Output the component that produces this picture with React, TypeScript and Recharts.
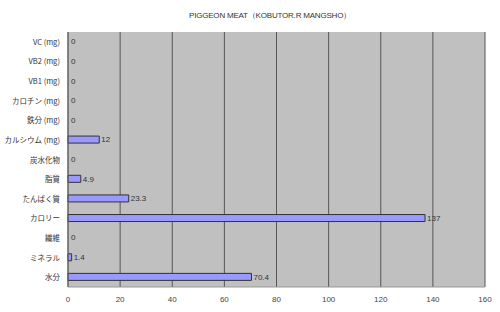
import { Bar, BarChart, CartesianGrid, Cell, LabelList, XAxis, YAxis } from "recharts";

const categories = [
  "VC (mg)",
  "VB2 (mg)",
  "VB1 (mg)",
  "カロチン (mg)",
  "鉄分 (mg)",
  "カルシウム (mg)",
  "炭水化物",
  "脂質",
  "たんぱく質",
  "カロリー",
  "繊維",
  "ミネラル",
  "水分",
];
const values = [0, 0, 0, 0, 0, 12, 0, 4.9, 23.3, 137, 0, 1.4, 70.4];
const xTicks = [0, 20, 40, 60, 80, 100, 120, 140, 160];

const TITLE = "PIGGEON MEAT（KOBUTOR.R MANGSHO）";

const chartData = categories.map((name, i) => ({ name, value: values[i] }));

const labelFont = "'Liberation Sans', Arial, sans-serif";
const jpFont = "'Noto Sans CJK JP', sans-serif";

// category labels on one line, no wrapping
function CategoryTick(props: any) {
  const { x, y, payload } = props;
  return (
    <text
      x={x}
      y={y}
      dy={3}
      textAnchor="end"
      fontSize={7.5}
      fill="#333"
      fontFamily={jpFont}
    >
      {payload.value}
    </text>
  );
}

export default function App() {
  return (
    <div style={{ position: "fixed", left: 0, top: 0, width: 500, height: 312, background: "#fff" }}>
      <div
        style={{
          position: "absolute",
          top: 10,
          left: 0,
          width: 540,
          textAlign: "center",
          fontFamily: labelFont,
          fontSize: 8,
          color: "#333",
          letterSpacing: -0.2,
        }}
      >
        {TITLE}
      </div>
      <BarChart
        width={500}
        height={312}
        data={chartData}
        layout="vertical"
        margin={{ top: 32, right: 15, bottom: 0, left: 0 }}
      >
        <CartesianGrid
          horizontal={false}
          stroke="#555"
          fill="#c0c0c0"
          fillOpacity={1}
          xAxisId="x"
          yAxisId="c"
        />
        <XAxis
          xAxisId="x"
          type="number"
          domain={[0, 160]}
          ticks={xTicks}
          height={25}
          tickLine={false}
          axisLine={{ stroke: "#999" }}
          tick={{ fontSize: 8, fill: "#444", fontFamily: labelFont }}
          tickMargin={3}
        />
        <XAxis
          xAxisId="top"
          orientation="top"
          type="number"
          domain={[0, 160]}
          height={0}
          tick={false}
          tickLine={false}
          axisLine={{ stroke: "#bbb" }}
        />
        <YAxis
          yAxisId="c"
          type="category"
          dataKey="name"
          width={68}
          tickLine={false}
          axisLine={{ stroke: "#666" }}
          tick={<CategoryTick />}
          tickMargin={2}
          interval={0}
        />
        <YAxis
          yAxisId="r"
          orientation="right"
          type="number"
          domain={[0, 13]}
          width={0}
          tick={false}
          tickLine={false}
          axisLine={{ stroke: "#ccc" }}
        />
        <Bar
          dataKey="value"
          xAxisId="x"
          yAxisId="c"
          fill="#9999ff"
          stroke="#333"
          strokeWidth={1}
          barSize={7}
          minPointSize={1}
          isAnimationActive={false}
        >
          {chartData.map((d, i) => (
            <Cell
              key={`cell-${i}`}
              fill={d.value === 0 ? "none" : "#9999ff"}
              stroke={d.value === 0 ? "none" : "#333"}
            />
          ))}
          <LabelList
            dataKey="value"
            position="right"
            offset={2}
            style={{ fontSize: 8, fill: "#333", fontFamily: labelFont }}
          />
        </Bar>
      </BarChart>
    </div>
  );
}
